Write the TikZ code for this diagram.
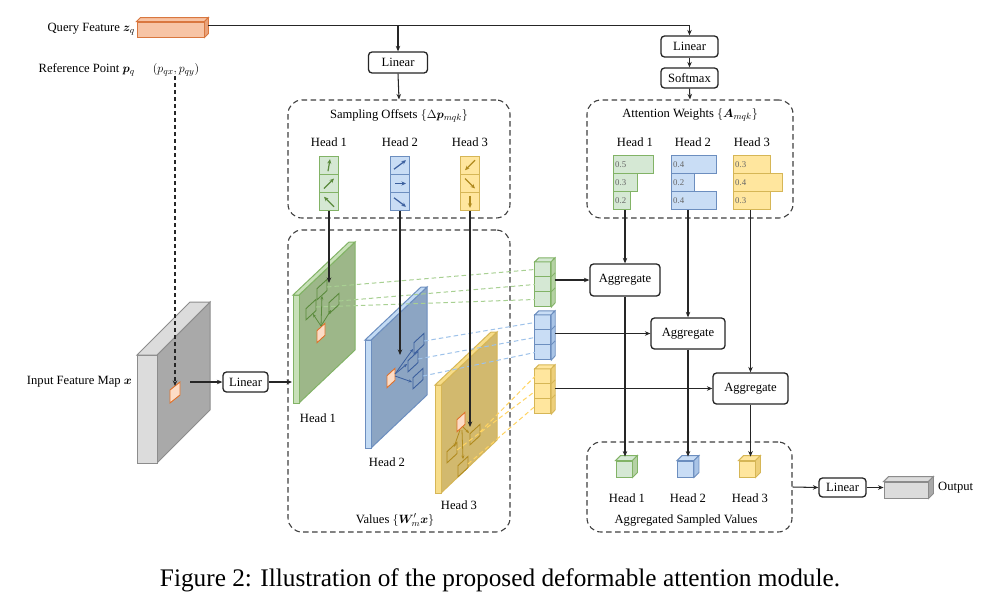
\documentclass[tikz,border=0pt]{standalone}
\usepackage{fontspec}
\setmainfont{Liberation Serif}
\usepackage{amsmath}
\usepackage{bm}
\usetikzlibrary{arrows.meta,calc}
\definecolor{gF}{HTML}{D5E8D4}
\definecolor{gS}{HTML}{B5D1A4}
\definecolor{gD}{HTML}{82B366}
\definecolor{gA}{HTML}{5A8A3C}
\definecolor{gP}{HTML}{9DB789}
\definecolor{gT}{HTML}{C8E0B8}
\definecolor{gL}{HTML}{A8D092}
\definecolor{bF}{HTML}{C9DDF5}
\definecolor{bS}{HTML}{A9C4E6}
\definecolor{bD}{HTML}{6C8EBF}
\definecolor{bA}{HTML}{3B5F9E}
\definecolor{bP}{HTML}{8CA5C3}
\definecolor{bT}{HTML}{C3DBF4}
\definecolor{bL}{HTML}{9EC2EA}
\definecolor{yF}{HTML}{FFE69E}
\definecolor{yS}{HTML}{EDCF7A}
\definecolor{yD}{HTML}{D6B656}
\definecolor{yA}{HTML}{B08A1E}
\definecolor{yP}{HTML}{D2B96E}
\definecolor{yT}{HTML}{F7DD8A}
\definecolor{yL}{HTML}{FFD462}
\definecolor{oF}{HTML}{F7C4A5}
\definecolor{oS}{HTML}{E9A27A}
\definecolor{oD}{HTML}{D9773F}
\definecolor{pF}{HTML}{FCDCC6}
\definecolor{pD}{HTML}{E0712A}
\definecolor{grF}{HTML}{DCDCDC}
\definecolor{grS}{HTML}{A9A9A9}
\definecolor{grD}{HTML}{8C8C8C}
\newcommand\lblfont{\fontsize{12.6}{14}\selectfont}
% plane: x y strip face draw
\newcommand\vplane[5]{%
  \filldraw[fill=#4, draw=#5, line width=1pt] (#1+6,#2) -- (#1+62,#2-53) -- (#1+62,#2+55) -- (#1+6,#2+108) -- cycle;
  \filldraw[fill=#3, draw=#5, line width=1pt] (#1,#2) rectangle (#1+6,#2+108);
  \filldraw[fill=#3, draw=#5, line width=1pt] (#1,#2) -- (#1+56,#2-53) -- (#1+62,#2-53) -- (#1+6,#2) -- cycle;
}
\newcommand\opatch[2]{%
  \filldraw[fill=pF, draw=pD, line width=0.9pt] (#1-4,#2-2.3) -- (#1+4,#2-9.7) -- (#1+4,#2+2.3) -- (#1-4,#2+9.7) -- cycle;
}
\newcommand\sq[3]{%
  \draw[draw=#3, line width=0.9pt] (#1-5,#2-0.4) -- (#1+5,#2-9.6) -- (#1+5,#2+1.6) -- (#1-5,#2+10.8) -- cycle;
}
% stack: node name, fill, side, draw
\newcommand\stackcol[4]{%
  \foreach \i in {0,1,2} {\filldraw[fill=#2,draw=#4,line width=0.9pt] ($(#1.north west)+(0,15*\i)$) rectangle ++(16,15);}
  \filldraw[fill=#2,draw=#4,line width=0.9pt] (#1.north west) -- ++(4,-4) -- ++(16,0) -- (#1.north east) -- cycle;
  \filldraw[fill=#3,draw=#4,line width=0.9pt] (#1.north east) -- ++(4,-4) -- ++(0,45) -- (#1.south east) -- cycle;
  \foreach \i in {1,2} {\draw[draw=#4,line width=0.9pt] ($(#1.north east)+(0,15*\i)$) -- ++(4,-4);}
}
% faces around a node: name, depth, fill, side, draw
\newcommand\cubefaces[5]{%
  \filldraw[fill=#3,draw=#5,line width=0.9pt] (#1.north west) -- ($(#1.north west)+(#2,-#2)$) -- ($(#1.north east)+(#2,-#2)$) -- (#1.north east) -- cycle;
  \filldraw[fill=#4,draw=#5,line width=0.9pt] (#1.north east) -- ($(#1.north east)+(#2,-#2)$) -- ($(#1.south east)+(#2,-#2)$) -- (#1.south east) -- cycle;
}
\begin{document}
\begin{tikzpicture}[x=1pt,y=-1pt,
  conn/.style={line width=1.05pt, draw=black!85, -{Stealth[length=5.5pt,width=4.5pt]}},
  box/.style={draw=black!85, line width=1.3pt, rounded corners=3.5pt, fill=white, inner sep=0pt, font=\lblfont},
  dbox/.style={draw=black!75, line width=1.1pt, dash pattern=on 5.5pt off 3.5pt, rounded corners=14pt, inner sep=0pt},
  lbl/.style={font=\lblfont, inner sep=0pt},
  num/.style={font=\fontsize{8.8}{10}\selectfont, text=black!60, inner sep=0pt},
  bar/.style={line width=1pt, inner sep=0pt, minimum height=18pt, anchor=north west},
  cell/.style={line width=1pt, inner sep=0pt, minimum width=19pt, minimum height=18.3pt},
  carr/.style={line width=1.2pt, -{Stealth[length=4.5pt,width=4pt]}},
  parr/.style={line width=0.8pt, -{Stealth[length=3.5pt,width=3pt]}},
  sdash/.style={line width=1pt, dash pattern=on 4.5pt off 3pt},
]
\fill[white] (0,0) rectangle (995,598);
\useasboundingbox (0,0) rectangle (995,598);

% ---------- group boxes ----------
\node[dbox, minimum width=222pt, minimum height=118pt] (so) at (399,159) {};
\node[dbox, minimum width=206pt, minimum height=118pt] (aw) at (690,159) {};
\node[dbox, minimum width=222pt, minimum height=302pt] (vals) at (399,381) {};
\node[dbox, minimum width=205pt, minimum height=90pt] (asv) at (689.5,487) {};
\node[lbl] (sotitle) at (399,116) {Sampling Offsets $\{\Delta\bm{p}_{mqk}\}$};
\node[lbl] (awtitle) at (690,115) {Attention Weights $\{\bm{A}_{mqk}\}$};
\node[lbl] (valtitle) at (395,520) {Values $\{\bm{W}'_m\bm{x}\}$};
\node[lbl] (asvtitle) at (686,520) {Aggregated Sampled Values};

% ---------- query ----------
\node[lbl, anchor=east] (qlab) at (135,29) {Query Feature $\bm{z}_q$};
\node[inner sep=0pt, minimum width=67pt, minimum height=15pt, fill=oF, draw=oD, line width=0.9pt] (qbar) at (170.5,29.5) {};
\cubefaces{qbar}{4}{oF}{oS}{oD}
\coordinate (qout) at ($(qbar.east)+(4,-4)$);
\node[box, minimum width=59pt, minimum height=21pt] (lin1) at (398,62.5) {Linear};
\node[box, minimum width=57pt, minimum height=21pt] (lin2) at (689.5,46.5) {Linear};
\node[box, minimum width=57pt, minimum height=20pt] (smax) at (689.5,78) {Softmax};
\draw[conn] (qout) -| (lin2.north);
\draw[conn] (qout -| lin1.north) -- (lin1.north);
\draw[conn] (lin1.south) -- (so.north);
\draw[conn] (lin2.south) -- (smax.north);
\draw[conn] (smax.south) -- (aw.north);

% ---------- sampling offsets ----------
\node[lbl] (sh1) at (329,142) {Head 1};
\node[lbl] (sh2) at (400,142) {Head 2};
\node[lbl] (sh3) at (470,142) {Head 3};
\node[cell, fill=gF, draw=gD] (oc1a) at (329,165.2) {};
\node[cell, fill=gF, draw=gD] (oc1b) at (329,183.5) {};
\node[cell, fill=gF, draw=gD] (oc1c) at (329,201.8) {};
\node[cell, fill=bF, draw=bD] (oc2a) at (400,165.2) {};
\node[cell, fill=bF, draw=bD] (oc2b) at (400,183.5) {};
\node[cell, fill=bF, draw=bD] (oc2c) at (400,201.8) {};
\node[cell, fill=yF, draw=yD] (oc3a) at (470,165.2) {};
\node[cell, fill=yF, draw=yD] (oc3b) at (470,183.5) {};
\node[cell, fill=yF, draw=yD] (oc3c) at (470,201.8) {};
\draw[carr, draw=gA] ([shift={(-1,6)}]oc1a.center) -- ([shift={(1,-6)}]oc1a.center);
\draw[carr, draw=gA] ([shift={(-5,5)}]oc1b.center) -- ([shift={(5,-5)}]oc1b.center);
\draw[carr, draw=gA] ([shift={(5,5)}]oc1c.center) -- ([shift={(-5,-5)}]oc1c.center);
\draw[carr, draw=bA] ([shift={(-6,4)}]oc2a.center) -- ([shift={(6,-5)}]oc2a.center);
\draw[carr, draw=bA] ([shift={(-5,0)}]oc2b.center) -- ([shift={(6,0)}]oc2b.center);
\draw[carr, draw=bA] ([shift={(-6,-4)}]oc2c.center) -- ([shift={(6,5)}]oc2c.center);
\draw[carr, draw=yA] ([shift={(5,-5)}]oc3a.center) -- ([shift={(-5,5)}]oc3a.center);
\draw[carr, draw=yA] ([shift={(-5,-5)}]oc3b.center) -- ([shift={(5,5)}]oc3b.center);
\draw[carr, draw=yA] ([shift={(0,-6)}]oc3c.center) -- ([shift={(0,6)}]oc3c.center);

% ---------- attention weights ----------
\node[lbl] (ah1) at (635,142) {Head 1};
\node[lbl] (ah2) at (693,142) {Head 2};
\node[lbl] (ah3) at (752,142) {Head 3};
\node[bar, fill=gF, draw=gD, minimum width=40pt] (wg1) at (613,155) {};
\node[bar, fill=gF, draw=gD, minimum width=24pt] (wg2) at (613,173) {};
\node[bar, fill=gF, draw=gD, minimum width=17pt] (wg3) at (613,191) {};
\node[bar, fill=bF, draw=bD, minimum width=45pt] (wb1) at (671,155) {};
\node[bar, fill=bF, draw=bD, minimum width=23pt] (wb2) at (671,173) {};
\node[bar, fill=bF, draw=bD, minimum width=45pt] (wb3) at (671,191) {};
\node[bar, fill=yF, draw=yD, minimum width=37pt] (wy1) at (733,155) {};
\node[bar, fill=yF, draw=yD, minimum width=49pt] (wy2) at (733,173) {};
\node[bar, fill=yF, draw=yD, minimum width=37pt] (wy3) at (733,191) {};
\node[num, anchor=west] (ng1) at ([xshift=2pt]wg1.west) {0.5};
\node[num, anchor=west] (ng2) at ([xshift=2pt]wg2.west) {0.3};
\node[num, anchor=west] (ng3) at ([xshift=2pt]wg3.west) {0.2};
\node[num, anchor=west] (nb1) at ([xshift=2pt]wb1.west) {0.4};
\node[num, anchor=west] (nb2) at ([xshift=2pt]wb2.west) {0.2};
\node[num, anchor=west] (nb3) at ([xshift=2pt]wb3.west) {0.4};
\node[num, anchor=west] (ny1) at ([xshift=2pt]wy1.west) {0.3};
\node[num, anchor=west] (ny2) at ([xshift=2pt]wy2.west) {0.4};
\node[num, anchor=west] (ny3) at ([xshift=2pt]wy3.west) {0.3};

% ---------- input feature map ----------
\node[lbl, anchor=east] (rlab) at (135,70) {Reference Point $\bm{p}_q$};
\node[lbl] (pq) at (176,70) {$(p_{qx},p_{qy})$};
\node[lbl, anchor=east] (ilab) at (132,382) {Input Feature Map $\bm{x}$};
\filldraw[fill=grS, draw=grD, line width=1pt] (157,355) -- (210,302) -- (210,410) -- (157,463) -- cycle;
\filldraw[fill=grF, draw=grD, line width=1pt] (137,355) rectangle (157,463);
\filldraw[fill=grF, draw=grD, line width=1pt] (137,355) -- (190,302) -- (210,302) -- (157,355) -- cycle;
\filldraw[fill=pF, draw=pD, line width=0.9pt] (170,390) -- (180,382) -- (180,395) -- (170,403) -- cycle;
\coordinate (ipt) at (175,386);
\draw[conn, dash pattern=on 4pt off 3pt] (pq.south -| ipt) -- (ipt);
\coordinate (iout) at (190,382);
\node[box, minimum width=45pt, minimum height=20pt] (linv) at (245.5,382) {Linear};
\draw[conn] (iout) -- (linv.west);
\coordinate (gin) at (292,382);
\draw[conn] (linv.east) -- (gin);

% ---------- value planes ----------
\vplane{293}{295}{gT}{gP}{gD}
\vplane{365}{340}{bT}{bP}{bD}
\vplane{435}{385}{yT}{yP}{yD}
\node[lbl] (vh1) at (318,418) {Head 1};
\node[lbl] (vh2) at (387,462) {Head 2};
\node[lbl] (vh3) at (459,505) {Head 3};

% sampling patterns
\opatch{321}{333}
\sq{322}{289}{gA}\sq{311}{309}{gA}\sq{334}{303}{gA}
\draw[parr, draw=gA] (321,326) -- (322,296);
\draw[parr, draw=gA] (321,326) -- (313,314);
\draw[parr, draw=gA] (321,326) -- (331,310);
\opatch{391}{378}
\sq{419}{343}{bA}\sq{413}{361}{bA}\sq{418}{378}{bA}
\draw[parr, draw=bA] (395,374) -- (413,349);
\draw[parr, draw=bA] (395,374) -- (407,364);
\draw[parr, draw=bA] (395,376) -- (412,382);
\opatch{461}{422}
\sq{475}{434}{yA}\sq{452}{452}{yA}\sq{463}{466}{yA}
\draw[parr, draw=yA] (463,427) -- (469,433);
\draw[parr, draw=yA] (460,430) -- (454,447);
\draw[parr, draw=yA] (462,430) -- (463,459);

% stacks of sampled values
\node[inner sep=0pt, minimum width=16pt, minimum height=45pt] (st1) at (543,284.5) {};
\node[inner sep=0pt, minimum width=16pt, minimum height=45pt] (st2) at (543,337.5) {};
\node[inner sep=0pt, minimum width=16pt, minimum height=45pt] (st3) at (543,391.5) {};
\stackcol{st1}{gF}{gS}{gD}
\stackcol{st2}{bF}{bS}{bD}
\stackcol{st3}{yF}{yS}{yD}

% dashed sampling lines
\draw[sdash, draw=gL] (327,287) -- ([yshift=15pt]st1.west);
\draw[sdash, draw=gL] (339,301) -- (st1.west);
\draw[sdash, draw=gL] (316,307) -- ([yshift=-15pt]st1.west);
\draw[sdash, draw=bL] (424,341) -- ([yshift=15pt]st2.west);
\draw[sdash, draw=bL] (418,359) -- (st2.west);
\draw[sdash, draw=bL] (423,376) -- ([yshift=-15pt]st2.west);
\draw[sdash, draw=yL] (480,432) -- ([yshift=15pt]st3.west);
\draw[sdash, draw=yL] (457,450) -- (st3.west);
\draw[sdash, draw=yL] (468,464) -- ([yshift=-15pt]st3.west);

% offsets to planes
\coordinate (gtip) at (329,283);
\coordinate (btip) at (400,355);
\coordinate (ytip) at (470,427);
\draw[conn] (oc1c.south) -- (gtip);
\draw[conn] (oc2c.south) -- (btip);
\draw[conn] (oc3c.south) -- (ytip);

% ---------- aggregation ----------
\node[box, minimum width=70pt, minimum height=32pt] (agg1) at (625,280) {Aggregate};
\node[box, minimum width=74pt, minimum height=31pt] (agg2) at (688,333.5) {Aggregate};
\node[box, minimum width=75pt, minimum height=31pt] (agg3) at (750.5,388.5) {Aggregate};
\draw[conn] (agg1.north |- wg3.south) -- (agg1.north);
\draw[conn] (agg2.north |- wb3.south) -- (agg2.north);
\draw[conn] (agg3.north |- wy3.south) -- (agg3.north);
\coordinate (st1r) at ([xshift=4pt]st1.east);
\coordinate (st2r) at ([xshift=4pt]st2.east);
\coordinate (st3r) at ([xshift=4pt]st3.east);
\draw[conn] (st1r |- agg1.west) -- (agg1.west);
\draw[conn] (st2r |- agg2.west) -- (agg2.west);
\draw[conn] (st3r |- agg3.west) -- (agg3.west);

% aggregated cubes
\node[inner sep=0pt, minimum size=16pt, fill=gF, draw=gD, line width=0.9pt] (ac1) at (624,469) {};
\node[inner sep=0pt, minimum size=16pt, fill=bF, draw=bD, line width=0.9pt] (ac2) at (685.5,469) {};
\node[inner sep=0pt, minimum size=16pt, fill=yF, draw=yD, line width=0.9pt] (ac3) at (747,469) {};
\cubefaces{ac1}{5}{gF}{gS}{gD}
\cubefaces{ac2}{5}{bF}{bS}{bD}
\cubefaces{ac3}{5}{yF}{yS}{yD}
\coordinate (ac1t) at ([yshift=4pt]ac1.north);
\coordinate (ac2t) at ([yshift=4pt]ac2.north);
\coordinate (ac3t) at ([yshift=4pt]ac3.north);
\draw[conn] (agg1.south) -- (agg1.south |- ac1t);
\draw[conn] (agg2.south) -- (agg2.south |- ac2t);
\draw[conn] (agg3.south) -- (agg3.south |- ac3t);
\node[lbl] (gh1) at (627,498) {Head 1};
\node[lbl] (gh2) at (688,498) {Head 2};
\node[lbl] (gh3) at (750,498) {Head 3};

% ---------- output ----------
\node[box, minimum width=47pt, minimum height=19pt] (lin3) at (842.5,487.5) {Linear};
\draw[conn] (asv.east) -- (lin3.west);
\node[inner sep=0pt, minimum width=44pt, minimum height=16pt, fill=grF, draw=grD, line width=0.9pt] (obar) at (906,490) {};
\cubefaces{obar}{5}{grF}{grS}{grD}
\draw[conn] (lin3.east) -- (lin3.east -| obar.west);
\node[lbl, anchor=west] (outlab) at (938,488) {Output};

% ---------- caption ----------
\node[font=\fontsize{25.3}{28}\selectfont, inner sep=0pt] (cap) at (500,580) {Figure 2: Illustration of the proposed deformable attention module.};
\end{tikzpicture}
\end{document}
